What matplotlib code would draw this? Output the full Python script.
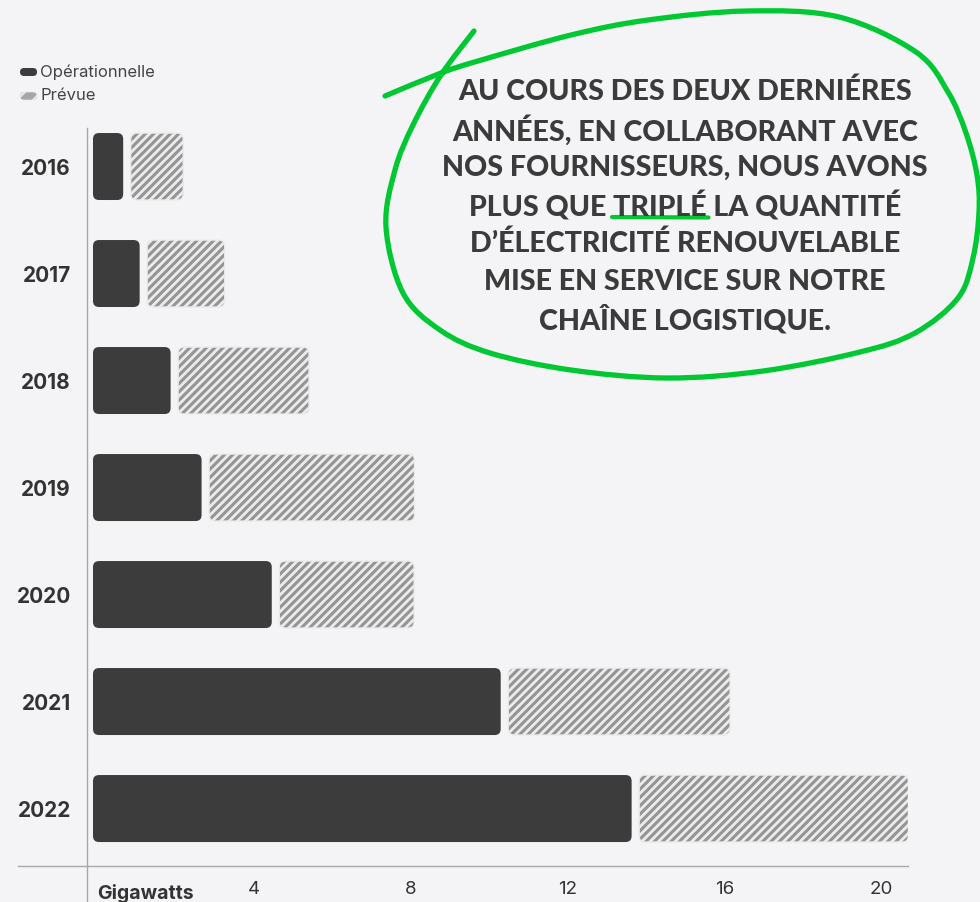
import numpy as np
import matplotlib
matplotlib.use('Agg')
import matplotlib.pyplot as plt
from matplotlib.patches import FancyBboxPatch, PathPatch
from matplotlib.path import Path
from matplotlib.transforms import Affine2D, ScaledTranslation

# ---------------- data ----------------
years = ['2016', '2017', '2018', '2019', '2020', '2021', '2022']
operational = [0.77, 1.19, 1.98, 2.77, 4.56, 10.40, 13.74]
planned = [1.34, 1.98, 3.34, 5.24, 3.44, 5.66, 6.87]
xticks = [4, 8, 12, 16, 20]
xtick_labels = ['4', '8', '12', '16', '20']
axis_label = 'Gigawatts'
legend_labels = ['Opérationnelle', 'Prévue']
callout_lines = [
    'AU COURS DES DEUX DERNIÉRES',
    'ANNÉES, EN COLLABORANT AVEC',
    'NOS FOURNISSEURS, NOUS AVONS',
    'PLUS QUE TRIPLÉ LA QUANTITÉ',
    'D’ÉLECTRICITÉ RENOUVELABLE',
    'MISE EN SERVICE SUR NOTRE',
    'CHAÎNE LOGISTIQUE.',
]
highlight_line = 3
highlight_prefix = 'PLUS QUE '
highlight_word = 'TRIPLÉ'

# ---------------- style ----------------
BG = '#f4f4f6'
DARK = '#3c3c3c'
HATCH_FACE = '#959595'
HATCH_LINE = '#ececec'
GREEN = '#00c832'
TEXT = '#333333'
SPINE = '#a8a8a8'

plt.rcParams['font.family'] = ['Inter', 'DejaVu Sans']
plt.rcParams['hatch.linewidth'] = 2.0

W, H = 980, 902
fig = plt.figure(figsize=(W / 100, H / 100), dpi=100, facecolor=BG)
# pixel transform with origin at top-left
pix = Affine2D().scale(1, -1).translate(0, H).scale(1 / W, 1 / H) + fig.transFigure

ax = fig.add_axes([87 / W, 36 / H, 821 / W, 738 / H])
ax.set_facecolor(BG)
ax.set_xlim(-0.153, 20.79)
ax.set_ylim(6.537, -0.36)

px_x = 821 / (ax.get_xlim()[1] - ax.get_xlim()[0])
px_y = 738 / abs(ax.get_ylim()[0] - ax.get_ylim()[1])
bar_h = 0.626
gap = 7.5 / px_x
r_px = 6
rx = r_px / px_x
aspect = px_x / px_y

for i, (o, p) in enumerate(zip(operational, planned)):
    ax.add_patch(FancyBboxPatch((0, i - bar_h / 2), o, bar_h,
                                boxstyle=f'round,pad=0,rounding_size={rx}',
                                mutation_aspect=aspect, fc=DARK, ec='none'))
    ax.add_patch(FancyBboxPatch((o + gap, i - bar_h / 2), p, bar_h,
                                boxstyle=f'round,pad=0,rounding_size={rx}',
                                mutation_aspect=aspect, fc=HATCH_FACE,
                                ec=HATCH_LINE, lw=1.0, hatch='////'))

ax.set_yticks(range(len(years)))
ax.set_yticklabels(years, fontweight='bold', fontsize=15, color=TEXT)
ax.tick_params(axis='y', length=0, pad=11.5)
ax.set_xticks(xticks)
ax.set_xticklabels(xtick_labels, fontsize=13.5, color=TEXT)
ax.tick_params(axis='x', length=0, pad=11)
for lab in ax.get_xticklabels():
    lab.set_transform(lab.get_transform() + ScaledTranslation(4 / 100, 0, fig.dpi_scale_trans))
for s in ['top', 'right']:
    ax.spines[s].set_visible(False)
for s in ['left', 'bottom']:
    ax.spines[s].set_color(SPINE)
    ax.spines[s].set_linewidth(1.0)
ax.plot([-69 / 821, 0], [0, 0], transform=ax.transAxes, clip_on=False,
        color=SPINE, lw=1.0)
ax.plot([0, 0], [0, -40 / 738], transform=ax.transAxes, clip_on=False,
        color=SPINE, lw=1.0)
ax.annotate(axis_label, xy=(0, 0), xycoords=('data', 'axes fraction'),
            xytext=(3, -19.5), textcoords='offset points', ha='left',
            va='center', fontsize=14, fontweight='bold', color=TEXT)

# ---------------- legend ----------------
leg_y = [72, 96]
for k, (lab, yy) in enumerate(zip(legend_labels, leg_y)):
    if k == 0:
        pp = FancyBboxPatch((20, yy - 4), 17, 8, boxstyle='round,pad=0,rounding_size=4',
                            fc=DARK, ec='none', transform=pix)
    else:
        pp = FancyBboxPatch((20, yy - 4), 17, 8, boxstyle='round,pad=0,rounding_size=4',
                            fc='#a5a5a5', ec='#e6e6e6', lw=0.5, hatch='//', transform=pix)
    fig.patches.append(pp)
    fig.text(40, yy, lab, transform=pix, ha='left', va='center', fontsize=12,
             color='#444444')

# ---------------- callout ----------------
cfont = dict(family=['Lato', 'DejaVu Sans'], fontweight='black', color='#3b3b3b')
renderer = fig.canvas.get_renderer()
probe = fig.text(0, 0, callout_lines[2], fontsize=20, **cfont)
w20 = probe.get_window_extent(renderer).width
probe.remove()
csize = 20 * 487 / w20
cx = 685
line_y = [92, 130, 168, 206, 244, 282, 320]
texts = []
for ln, yy in zip(callout_lines, line_y):
    t = fig.text(cx, yy, ln, transform=pix, ha='center', va='center',
                 fontsize=csize, **cfont)
    texts.append(t)

# underline highlight
tl = texts[highlight_line]
ext = tl.get_window_extent(renderer)
p1 = fig.text(0, 0, highlight_prefix + highlight_word, fontsize=csize, **cfont)
w_pre = p1.get_window_extent(renderer).width
p1.remove()
p2 = fig.text(0, 0, highlight_word, fontsize=csize, **cfont)
w_word = p2.get_window_extent(renderer).width
p2.remove()
x_end = ext.x0 + w_pre
x_start = x_end - w_word
u_y = line_y[highlight_line] + 11
fig.lines.append(plt.Line2D([x_start - 1, x_end + 2], [u_y, u_y + 0.5], transform=pix,
                            color=GREEN, lw=3.0, solid_capstyle='round'))

# hand-drawn loop
pts = np.array([(385, 96), (441, 73), (478, 61), (571, 35), (648, 20), (747, 11),
                (839, 17), (916, 52), (948, 92), (966, 133), (977, 175), (979, 212),
                (973, 258), (958, 298), (915, 333), (860, 352), (763, 371),
                (667, 378), (571, 370), (490, 353), (440, 330), (403, 293),
                (386, 227), (395, 170), (413, 125), (441, 75), (474, 31)], float)
P = np.vstack([pts[0], pts, pts[-1]])
verts = [tuple(P[1])]
codes = [Path.MOVETO]
for i in range(1, len(P) - 2):
    p0, p1_, p2_, p3 = P[i - 1], P[i], P[i + 1], P[i + 2]
    c1 = p1_ + (p2_ - p0) / 6
    c2 = p2_ - (p3 - p1_) / 6
    verts += [tuple(c1), tuple(c2), tuple(p2_)]
    codes += [Path.CURVE4] * 3
loop = PathPatch(Path(verts, codes), fc='none', ec=GREEN, lw=3.8,
                 capstyle='round', joinstyle='round', transform=pix)
fig.patches.append(loop)

fig.savefig('out.png', dpi=100, facecolor=BG)
